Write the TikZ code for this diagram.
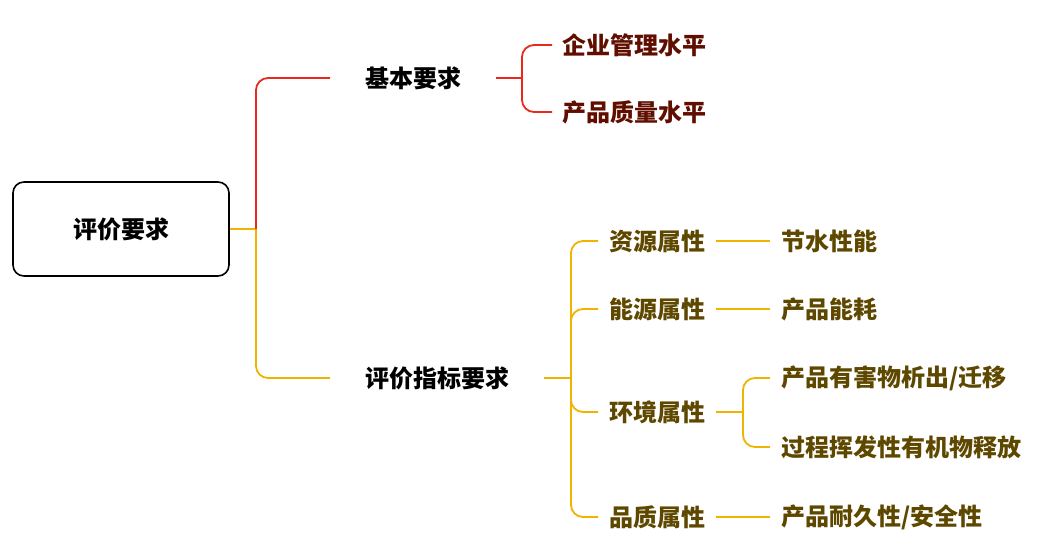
\documentclass[tikz,border=0pt]{standalone}
\usepackage{fontspec}
\setmainfont{Noto Sans CJK SC}
\definecolor{lred}{HTML}{E8291C}
\definecolor{lyel}{HTML}{F0B400}
\definecolor{tred}{HTML}{600E00}
\definecolor{tbrn}{HTML}{5E4800}
\begin{document}
\begin{tikzpicture}[x=1pt,y=-1pt,
  every node/.style={font=\fontsize{24}{27}\selectfont\bfseries, inner ysep=2pt},
  rootbox/.style={draw=black, line width=1.6pt, rounded corners=11pt, minimum width=216pt, minimum height=94pt, inner sep=0pt},
  lvone/.style={anchor=west, inner xsep=35pt, text=black},
  lvtwo/.style={anchor=west, inner xsep=11pt, text=tbrn},
  lvtwor/.style={anchor=west, inner xsep=10pt, text=tred},
  rd/.style={draw=lred, line width=1.8pt, rounded corners=12pt},
  yl/.style={draw=lyel, line width=1.8pt, rounded corners=12pt}]
\useasboundingbox (0,0) rectangle (1061,552);
\node[rootbox] (root) at (121,229) {评价要求};
\coordinate (rj) at (256,229);
\node[lvone] (jb) at (330,78) {基本要求};
\node[lvone] (pj) at (330,378) {评价指标要求};
\coordinate (jbj) at (522,78);
\node[lvtwor] (qy) at (552,45) {企业管理水平};
\node[lvtwor] (cz) at (552,112) {产品质量水平};
\coordinate (pjj) at (571,378);
\node[lvtwo] (zy) at (598,241) {资源属性};
\node[lvtwo] (ny) at (598,309) {能源属性};
\node[lvtwo] (hj) at (598,412) {环境属性};
\node[lvtwo] (pz) at (598,517) {品质属性};
\node[lvtwo] (js) at (770,241) {节水性能};
\node[lvtwo] (nh) at (770,309) {产品能耗};
\coordinate (hjj) at (743,412);
\node[lvtwo] (yh) at (770,378) {产品有害物析出/迁移};
\node[lvtwo] (hf) at (770,447) {过程挥发性有机物释放};
\node[lvtwo] (nj) at (770,517) {产品耐久性/安全性};
\draw[yl] (root.east) -- (rj);
\draw[rd] (rj) |- (jb.west);
\draw[yl] (rj) |- (pj.west);
\draw[rd] (jb.east) -- (jbj);
\draw[rd] (jbj) |- (qy.west);
\draw[rd] (jbj) |- (cz.west);
\draw[yl] (pj.east) -- (pjj);
\draw[yl] (pjj) |- (zy.west);
\draw[yl] (pjj) |- (ny.west);
\draw[yl] (pjj) |- (hj.west);
\draw[yl] (pjj) |- (pz.west);
\draw[yl] (zy.east) -- (js.west);
\draw[yl] (ny.east) -- (nh.west);
\draw[yl] (pz.east) -- (nj.west);
\draw[yl] (hj.east) -- (hjj);
\draw[yl] (hjj) |- (yh.west);
\draw[yl] (hjj) |- (hf.west);
\end{tikzpicture}
\end{document}
